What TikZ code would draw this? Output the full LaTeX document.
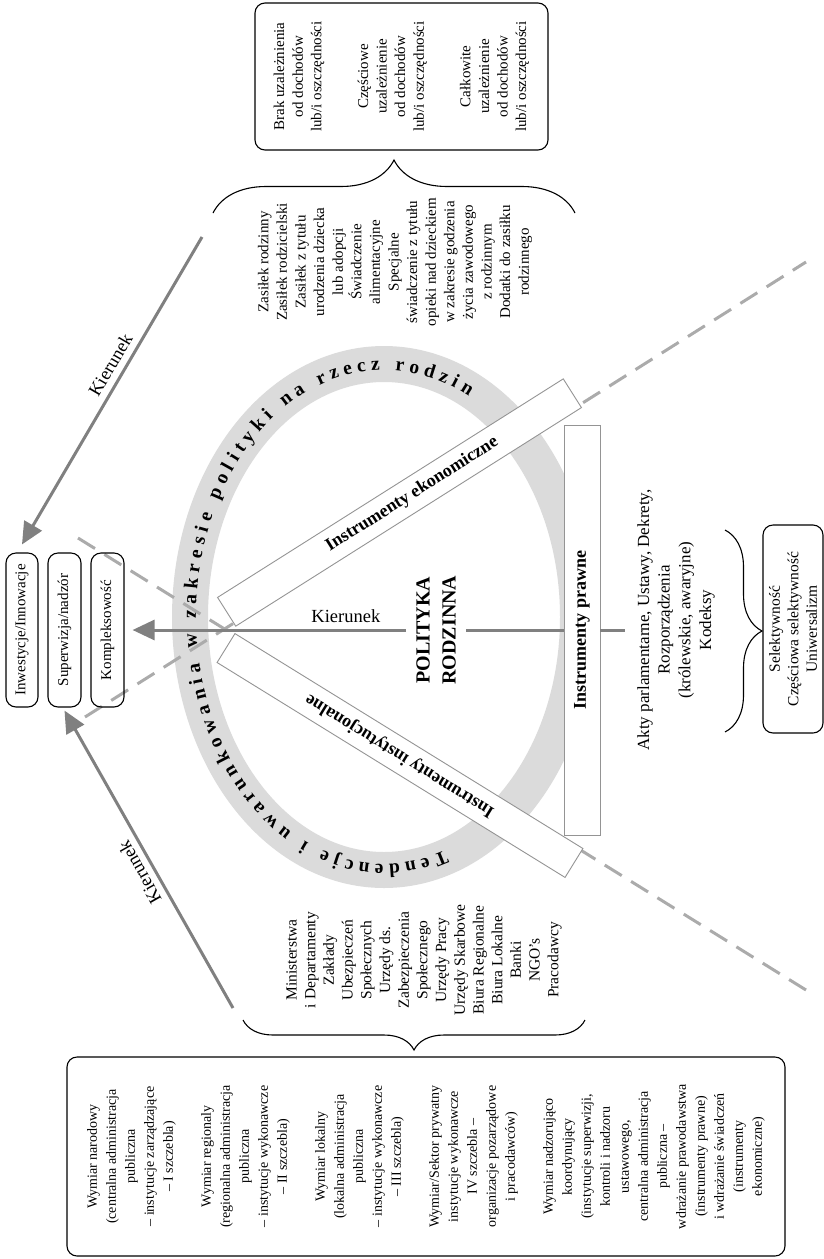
\documentclass[tikz,border=0pt]{standalone}
\usepackage{fontspec}
\setmainfont{Liberation Serif}
\usetikzlibrary{arrows.meta,decorations.text,decorations.pathreplacing,calc}
\tikzset{
  every node/.style={font=\fontsize{15}{18.6}\selectfont},
  rbox/.style={draw=black, line width=1.1pt, rounded corners=10pt, align=center, inner sep=0pt},
  instbox/.style={draw=black!42, line width=0.9pt, fill=white, inner sep=0pt,
    font=\fontsize{18}{21}\selectfont\bfseries},
  garrow/.style={draw=black!50, line width=3pt, -{Triangle[length=22pt,width=20pt]}},
  gline/.style={draw=black!50, line width=3pt},
  dashln/.style={draw=black!33, line width=3pt, dash pattern=on 20pt off 11pt},
  curly/.style={draw=black, line width=1.1pt, decorate},
  klabel/.style={font=\fontsize{18.5}{22}\selectfont, text=black},
  rtext/.style={rotate=90, align=center, inner sep=0pt},
}
\begin{document}
\begin{tikzpicture}[x=1pt,y=1pt]
\useasboundingbox (0,0) rectangle (824,-1259);
% grey ring
\draw[line width=36pt, color=black!14] (384,-617) ellipse [x radius=194, y radius=253];
\path[decorate, decoration={text along path, text align=fit to path, raise=-6pt,
  text={|\fontsize{19.5}{22}\selectfont\bfseries|Tendencje i uwarunkowania w zakresie polityki na rzecz rodzin}}]
  ($(384,-617)+(-71:194 and 253)$) arc[start angle=-71, end angle=-297, x radius=194, y radius=253];
% dashed guide lines
\coordinate (dA1) at (78,-538); \coordinate (dA2) at (806,-990);
\coordinate (dB1) at (85,-717); \coordinate (dB2) at (806,-262);
\draw[dashln] (dA1) -- (dA2);
\draw[dashln] (dB1) -- (dB2);
% instrument boxes
\node[instbox, rotate=32.3, minimum width=409pt, minimum height=34pt] (eko) at (399.5,-502.5) {\hspace*{30pt}Instrumenty ekonomiczne};
\node[instbox, rotate=148.3, minimum width=409pt, minimum height=34pt] (inst) at (400,-755.5) {Instrumenty instytucjonalne};
\node[instbox, rotate=90, minimum width=410pt, minimum height=36pt] (praw) at (582,-630) {Instrumenty prawne};
% centre
\node[rotate=90, align=center, font=\fontsize{20}{26}\selectfont\bfseries, inner sep=10pt] (polit) at (436,-630) {POLITYKA\\RODZINNA};
% left boxes
\node[rbox, rotate=90, minimum width=154pt, minimum height=32pt] (inw) at (22,-630) {Inwestycje/Innowacje};
\node[rbox, rotate=90, minimum width=154pt, minimum height=33pt] (sup) at (64.5,-630) {Superwizja/nadzór};
\node[rbox, rotate=90, minimum width=154pt, minimum height=33pt] (komp) at (107.5,-630) {Kompleksowość};
% arrows
\draw[gline] (praw.north) -- (polit.south);
\draw[garrow] (polit.north) -- node[klabel, pos=0.22, above=2pt] (kl0) {Kierunek} ([xshift=8pt]komp.south);
\coordinate (stubend) at (625,-630);
\draw[gline] (praw.south) -- (stubend);
\coordinate (k1) at (202,-237);
\draw[garrow] (k1) -- node[klabel, pos=0.44, sloped, above=3pt] (kl1) {Kierunek} ([yshift=8pt]inw.east);
\coordinate (k2) at (233,-1008);
\draw[garrow] (k2) -- node[klabel, pos=0.48, sloped, allow upside down, above=3pt] (kl2) {Kierunek} ([yshift=-3pt]sup.west);
% top right box
\node[rbox, rotate=90, minimum width=147pt, minimum height=293pt] (topbox) at (401.5,-76.5)
 {Brak uzależnienia\\od dochodów\\lub/i oszczędności\\[28pt]Częściowe\\uzależnienie\\od dochodów\\lub/i oszczędności\\[28pt]Całkowite\\uzależnienie\\od dochodów\\lub/i oszczędności};
\draw[curly, decoration={brace, amplitude=53pt}] (213,-213) -- (575,-213);
\node[rtext] (zas) at (395,-262) {Zasiłek rodzinny\\Zasiłek rodzicielski\\Zasiłek z tytułu\\urodzenia dziecka\\lub adopcji\\Świadczenie\\alimentacyjne\\Specjalne\\świadczenie z tytułu\\opieki nad dzieckiem\\w zakresie godzenia\\życia zawodowego\\z rodzinnym\\Dodatki do zasiłku\\rodzinnego};
% bottom
\node[rtext, font=\fontsize{15.5}{18.7}\selectfont] (min) at (424,-960) {Ministerstwa\\i Departamenty\\Zakłady\\Ubezpieczeń\\Społecznych\\Urzędy ds.\\Zabezpieczenia\\Społecznego\\Urzędy Pracy\\Urzędy Skarbowe\\Biura Regionalne\\Biura Lokalne\\Banki\\NGO's\\Pracodawcy};
\draw[curly, decoration={brace, amplitude=30pt}] (585,-1020) -- (243,-1020);
\node[rbox, rotate=90, minimum width=199pt, minimum height=718pt, font=\fontsize{14}{19}\selectfont] (botbox) at (426,-1156.5)
 {Wymiar narodowy\\(centralna administracja\\publiczna\\– instytucje zarządzające\\– I szczebla)\\[19pt]
  Wymiar regionaly\\(regionalna administracja\\publiczna\\– instytucje wykonawcze\\– II szczebla)\\[19pt]
  Wymiar lokalny\\(lokalna administracja\\publiczna\\– instytucje wykonawcze\\– III szczebla)\\[19pt]
  Wymiar/Sektor prywatny\\instytucje wykonawcze\\IV szczebla –\\organizacje pozarządowe\\i pracodawców)\\[19pt]
  Wymiar nadzorująco\\koordynujący\\(instytucje superwizji,\\kontroli i nadzoru\\ustawowego,\\centralna administracja\\publiczna –\\wdrażanie prawodawstwa\\(instrumenty prawne)\\i wdrażanie świadczeń\\(instrumenty\\ekonomiczne)};
% right side
\node[rtext, font=\fontsize{17}{20.7}\selectfont] (akty) at (676,-620) {Akty parlamentarne, Ustawy, Dekrety,\\Rozporządzenia\\(królewskie, awaryjne)\\Kodeksy};
\draw[curly, decoration={brace, amplitude=37pt}] (725,-530) -- (725,-732);
\node[rbox, rotate=90, minimum width=208pt, minimum height=60pt, font=\fontsize{15.5}{18.5}\selectfont] (sel) at (793,-629) {Selektywność\\Częściowa selektywność\\Uniwersalizm};
\end{tikzpicture}
\end{document}
